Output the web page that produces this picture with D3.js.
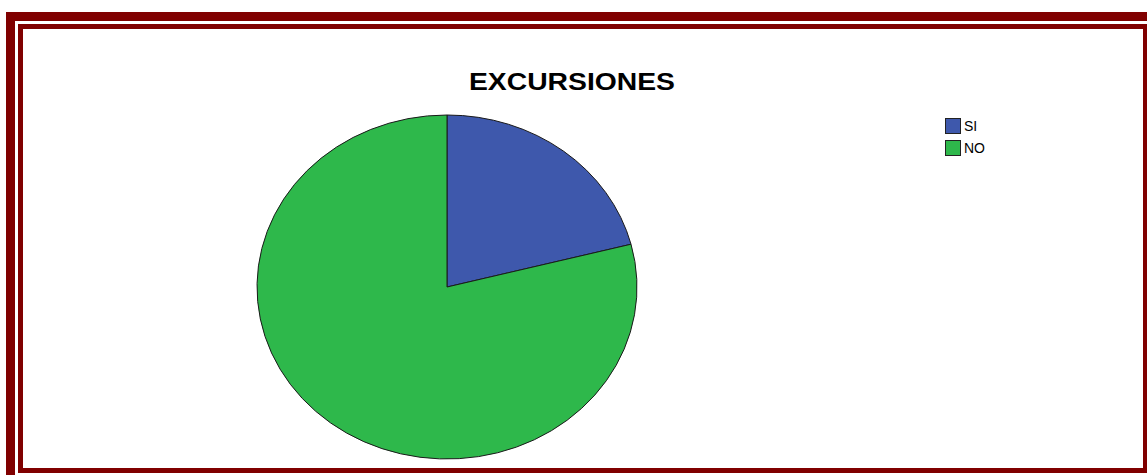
<!DOCTYPE html>
<html>
<head>
<meta charset="utf-8">
<script src="https://cdn.jsdelivr.net/npm/d3@7"></script>
<style>
  html, body { margin: 0; padding: 0; background: #fff; }
  svg { display: block; }
</style>
</head>
<body>
<svg id="chart" width="1147" height="475"></svg>
<script>
// Survey answers for "EXCURSIONES" (percent of respondents)
const categories = ["SI", "NO"];
const values = [21, 79];
const colors = ["#3e58ac", "#2eb84b"];
const title = "EXCURSIONES";

const svg = d3.select("#chart");
const W = 1147, H = 475;
const frameColor = "#800000";

// Double dark-red frame around the chart
svg.append("rect").attr("x", 10.5).attr("y", 16.5).attr("width", W + 20).attr("height", H + 20)
  .attr("fill", "none").attr("stroke", frameColor).attr("stroke-width", 9);
svg.append("rect").attr("x", 20.5).attr("y", 26.5).attr("width", 1125).attr("height", 444)
  .attr("fill", "none").attr("stroke", frameColor).attr("stroke-width", 5);

// Title
svg.append("text")
  .attr("x", 572).attr("y", 90)
  .attr("text-anchor", "middle")
  .attr("font-family", "Liberation Sans, Arial, sans-serif")
  .attr("font-weight", "bold")
  .attr("font-size", 23)
  .attr("textLength", 206)
  .attr("lengthAdjust", "spacingAndGlyphs")
  .attr("fill", "#000")
  .text(title);

// Pie, drawn as a circle and stretched horizontally into an ellipse
const cx = 447, cy = 287, rx = 190, ry = 172;
const pie = d3.pie().sort(null).value(d => d.value);
const arc = d3.arc().innerRadius(0).outerRadius(ry);
const data = categories.map((c, i) => ({ name: c, value: values[i], color: colors[i] }));

const g = svg.append("g")
  .attr("transform", `translate(${cx},${cy}) scale(${rx / ry},1)`);
g.selectAll("path")
  .data(pie(data))
  .join("path")
  .attr("d", arc)
  .attr("fill", d => d.data.color)
  .attr("stroke", "#1a1a1a")
  .attr("stroke-width", 1)
  .attr("vector-effect", "non-scaling-stroke");

// Legend
const legend = svg.append("g").attr("transform", "translate(945,118)");
const item = legend.selectAll("g")
  .data(data)
  .join("g")
  .attr("transform", (d, i) => `translate(0,${i * 22})`);
item.append("rect")
  .attr("x", 0.5).attr("y", 0.5).attr("width", 15).attr("height", 15)
  .attr("fill", d => d.color)
  .attr("stroke", "#222").attr("stroke-width", 1);
item.append("text")
  .attr("x", 19).attr("y", 13)
  .attr("font-family", "Liberation Sans, Arial, sans-serif")
  .attr("font-size", 14)
  .attr("fill", "#000")
  .text(d => d.name);
</script>
</body>
</html>
